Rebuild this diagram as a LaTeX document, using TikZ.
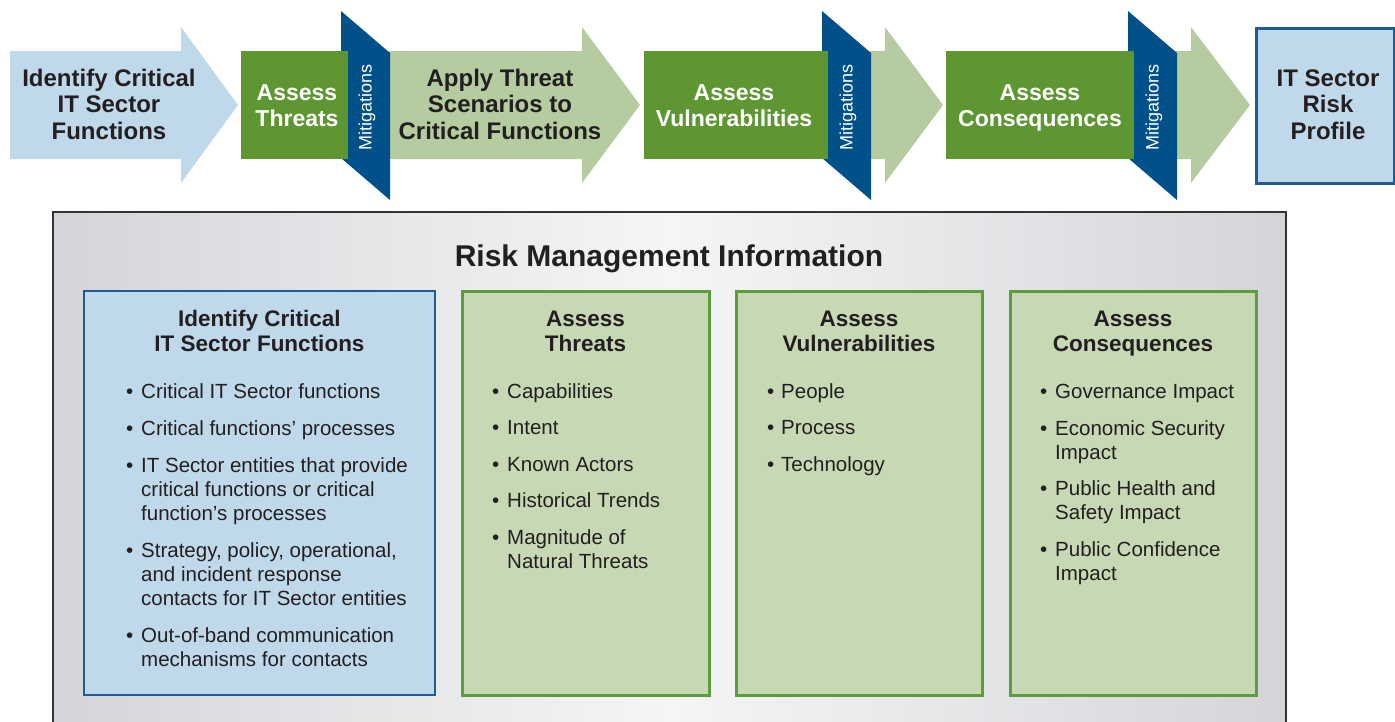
\documentclass[tikz,border=0pt]{standalone}
\usepackage{fontspec}
\setmainfont{Liberation Sans}
\usepackage{xcolor}
\usepackage{tikz}
\usetikzlibrary{positioning}
\definecolor{skyblue}{HTML}{BFD9EA}
\definecolor{navyblue}{HTML}{00508A}
\definecolor{steelline}{HTML}{1F5C96}
\definecolor{leafgreen}{HTML}{5E9732}
\definecolor{sagegreen}{HTML}{B5CCA0}
\definecolor{palesage}{HTML}{C7D8B4}
\definecolor{mossline}{HTML}{5E9B3A}
\definecolor{inkblack}{HTML}{231F20}
\definecolor{frameline}{HTML}{333333}
\definecolor{mistgray}{HTML}{D3D5D8}
\definecolor{mistlight}{HTML}{F4F5F6}
\newcommand{\lstack}[1]{\begin{tabular}[t]{@{}l@{}}#1\end{tabular}}
\newcommand{\cstack}[1]{\begin{tabular}[t]{@{}c@{}}#1\end{tabular}}

\begin{document}
\begin{tikzpicture}[
  x=1pt,y=-1pt,
  toptext/.style={font=\bfseries\fontsize{24}{26.7}\selectfont,text=inkblack,inner sep=0pt,anchor=base},
  boxtext/.style={font=\bfseries\fontsize{23}{26}\selectfont,text=white,inner sep=0pt,anchor=base},
  mitig/.style={font=\fontsize{18}{20}\selectfont,text=white,rotate=90,inner sep=0pt},
  rmtitle/.style={font=\bfseries\fontsize{30}{34}\selectfont,text=inkblack,inner sep=0pt,anchor=base},
  colhead/.style={font=\bfseries\fontsize{22.5}{25}\selectfont,text=inkblack,inner sep=0pt,anchor=base},
  bul/.style={font=\fontsize{20.5}{24.2}\selectfont,text=inkblack,inner sep=0pt,anchor=base west},
  bluecol/.style={draw=steelline,line width=2.5pt,fill=skyblue},
  greencol/.style={draw=mossline,line width=3pt,fill=palesage}
]
\useasboundingbox (0,0) rectangle (1395,721);
\clip (0,0) rectangle (1395,721);

% process row
\fill[skyblue] (10,51) -- (181,51) -- (181,27) -- (238,105) -- (181,183) -- (181,159) -- (10,159) -- cycle;
\fill[sagegreen] (380,51) -- (582,51) -- (582,27) -- (640,105) -- (582,183) -- (582,159) -- (380,159) -- cycle;
\fill[sagegreen] (860,51) -- (885,51) -- (885,27) -- (943,105) -- (885,183) -- (885,159) -- (860,159) -- cycle;
\fill[sagegreen] (1166,51) -- (1191,51) -- (1191,27) -- (1250,105) -- (1191,183) -- (1191,159) -- (1166,159) -- cycle;
\foreach \x in {341,822,1128}
  \fill[navyblue] (\x,11) -- (\x+49,53) -- (\x+49,200) -- (\x,158) -- cycle;
\fill[leafgreen] (241,51) rectangle (348,159);
\fill[leafgreen] (644,51) rectangle (828,159);
\fill[leafgreen] (946,51) rectangle (1134,159);
\draw[steelline,line width=3pt,fill=skyblue] (1256,28) rectangle (1394,183);

\node[toptext] (identify) at (109,86) {\cstack{Identify Critical\\IT Sector\\Functions}};
\node[boxtext] (threats) at (297,100) {\cstack{Assess\\Threats}};
\node[toptext] (apply) at (500,86) {\cstack{Apply Threat\\Scenarios to\\Critical Functions}};
\node[boxtext] (vulner) at (734,100) {\cstack{Assess\\Vulnerabilities}};
\node[boxtext] (conseq) at (1040,100) {\cstack{Assess\\Consequences}};
\node[toptext] (profile) at (1328,86) {\cstack{IT Sector\\Risk\\Profile}};
\foreach \x [count=\k] in {367,848,1154}
  \node[mitig] (mitig\k) at (\x,107) {Mitigations};

% risk management information
\shade[left color=mistgray,right color=mistgray,middle color=mistlight] (53,212) rectangle (1286,740);
\draw[frameline,line width=2.5pt] (53,212) rectangle (1286,740);
\node[rmtitle] (rmi) at (669,266) {Risk Management Information};

\draw[bluecol] (84,291) rectangle (435,695);
\draw[greencol] (462,291) rectangle (709,695);
\draw[greencol] (736,291) rectangle (982,695);
\draw[greencol] (1010,291) rectangle (1256,695);

\node[colhead] (idhead) at (259.5,326) {\cstack{Identify Critical\\IT Sector Functions}};
\node[colhead] (thhead) at (585.5,326) {\cstack{Assess\\Threats}};
\node[colhead] (vuhead) at (859,326) {\cstack{Assess\\Vulnerabilities}};
\node[colhead] (cohead) at (1133,326) {\cstack{Assess\\Consequences}};

\foreach \y/\txt [count=\k] in {398/{Critical IT Sector functions},
    435/{Critical functions’ processes},
    472/{IT Sector entities that provide\\critical functions or critical\\function’s processes},
    557/{Strategy, policy, operational,\\and incident response\\contacts for IT Sector entities},
    642/{Out-of-band communication\\mechanisms for contacts}} {
  \node[bul] (iddot\k) at (126,\y) {\textbullet};
  \node[bul] (iditem\k) at (141,\y) {\lstack{\txt}};
}
\foreach \y/\txt [count=\k] in {398/{Capabilities}, 434/{Intent}, 471/{Known Actors},
    507/{Historical Trends}, 544/{Magnitude of\\Natural Threats}} {
  \node[bul] (thdot\k) at (492,\y) {\textbullet};
  \node[bul] (thitem\k) at (507,\y) {\lstack{\txt}};
}
\foreach \y/\txt [count=\k] in {398/{People}, 434/{Process}, 471/{Technology}} {
  \node[bul] (vudot\k) at (767,\y) {\textbullet};
  \node[bul] (vuitem\k) at (781,\y) {\lstack{\txt}};
}
\foreach \y/\txt [count=\k] in {398/{Governance Impact}, 435/{Economic Security\\Impact},
    495/{Public Health and\\Safety Impact}, 556/{Public Confidence\\Impact}} {
  \node[bul] (codot\k) at (1040,\y) {\textbullet};
  \node[bul] (coitem\k) at (1055,\y) {\lstack{\txt}};
}
\end{tikzpicture}
\end{document}
